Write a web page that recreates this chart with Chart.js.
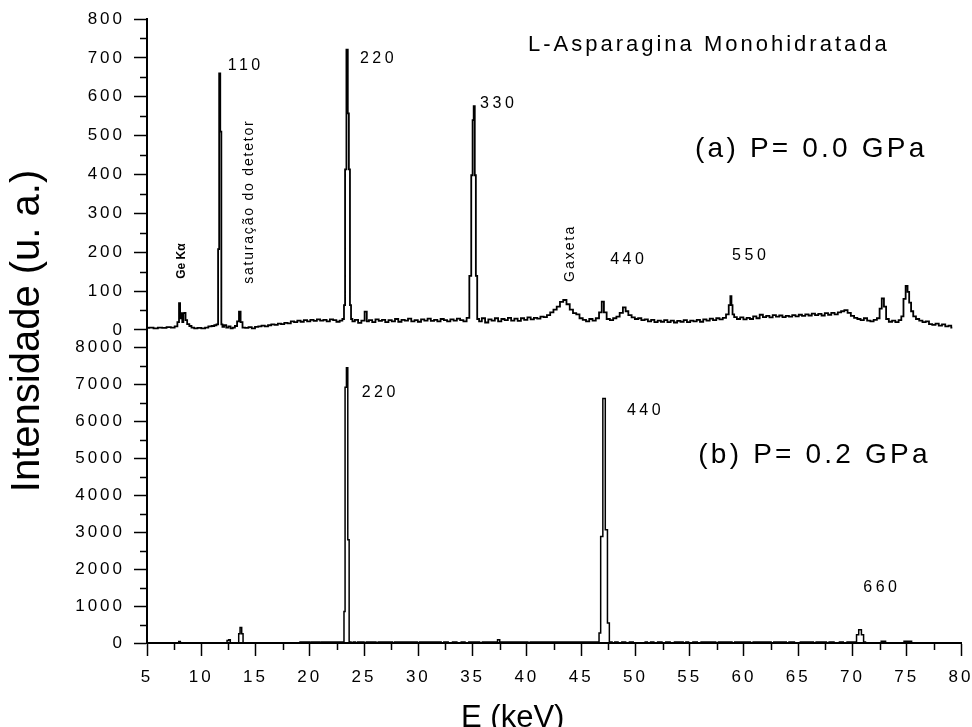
<!DOCTYPE html>
<html>
<head>
<meta charset="utf-8">
<title>L-Asparagina Monohidratada - EDXD</title>
<script src="https://cdn.jsdelivr.net/npm/chart.js@4.4.1/dist/chart.umd.min.js"></script>
<style>
  html, body { margin: 0; padding: 0; background: #fff; }
  #wrap { position: relative; width: 972px; height: 727px; }
</style>
</head>
<body>
<div id="wrap"><canvas id="chart-edxd"></canvas></div>
<script>
'use strict';

//
// Espectros EDXD, (a) 0.0 GPa e (b) 0.2 GPa
//

// (a) P = 0.0 GPa
var energyA = [
  5.0, 5.4, 5.8, 6.2, 6.6, 7.0, 7.4, 7.7, 7.9, 8.0, 8.1, 8.2, 8.3, 8.4, 8.5, 8.6, 8.8, 9.0, 9.2, 9.5,
  9.8, 10.2, 10.5, 10.8, 11.1, 11.3, 11.5, 11.6, 11.7, 11.8, 11.9, 12.0, 12.2, 12.4, 12.6, 12.8, 13.0, 13.2, 13.4, 13.55,
  13.7, 13.9, 14.2, 14.5, 14.8, 15.1, 15.4, 15.7, 16.0, 16.3, 16.6, 16.9, 17.2, 17.5, 17.8, 18.1, 18.4, 18.7, 19.0, 19.3,
  19.6, 19.9, 20.2, 20.5, 20.8, 21.1, 21.4, 21.7, 22.0, 22.3, 22.6, 22.9, 23.1, 23.2, 23.3, 23.45, 23.55, 23.65, 23.75, 23.85,
  24.0, 24.3, 24.6, 24.9, 25.2, 25.3, 25.6, 25.9, 26.2, 26.5, 26.8, 27.1, 27.4, 27.7, 28.0, 28.3, 28.6, 28.9, 29.2, 29.5,
  29.8, 30.1, 30.4, 30.7, 31.0, 31.3, 31.6, 31.9, 32.2, 32.5, 32.8, 33.1, 33.4, 33.7, 34.0, 34.3, 34.6, 34.8, 34.95, 35.05,
  35.15, 35.25, 35.35, 35.5, 35.7, 36.0, 36.3, 36.6, 36.9, 37.2, 37.5, 37.8, 38.1, 38.4, 38.7, 39.0, 39.3, 39.6, 39.9, 40.2,
  40.5, 40.8, 41.1, 41.4, 41.7, 42.0, 42.3, 42.6, 42.9, 43.2, 43.5, 43.8, 44.1, 44.4, 44.7, 45.0, 45.3, 45.6, 45.9, 46.2,
  46.5, 46.8, 47.0, 47.2, 47.5, 47.8, 48.1, 48.4, 48.7, 49.0, 49.2, 49.5, 49.8, 50.1, 50.4, 50.7, 51.0, 51.3, 51.6, 51.9,
  52.2, 52.5, 52.8, 53.1, 53.4, 53.7, 54.0, 54.3, 54.6, 54.9, 55.2, 55.5, 55.8, 56.1, 56.4, 56.7, 57.0, 57.3, 57.6, 57.9,
  58.2, 58.5, 58.7, 58.8, 58.9, 59.0, 59.2, 59.5, 59.8, 60.1, 60.4, 60.7, 61.0, 61.3, 61.6, 61.9, 62.2, 62.5, 62.8, 63.1,
  63.4, 63.7, 64.0, 64.3, 64.6, 64.9, 65.2, 65.5, 65.8, 66.1, 66.4, 66.7, 67.0, 67.3, 67.6, 67.9, 68.2, 68.5, 68.8, 69.1,
  69.4, 69.7, 70.0, 70.3, 70.6, 70.9, 71.2, 71.5, 71.8, 72.1, 72.4, 72.6, 72.8, 73.0, 73.2, 73.5, 73.8, 74.1, 74.4, 74.6,
  74.8, 75.0, 75.15, 75.3, 75.5, 75.7, 76.0, 76.3, 76.6, 76.9, 77.2, 77.5, 77.8, 78.1, 78.4, 78.7, 79.0, 79.2
];
var countsA = [
  5, 6, 4, 6, 5, 7, 6, 9, 20, 69, 30, 43, 20, 43, 44, 25, 15, 10, 6, 4,
  5, 4, 6, 9, 10, 12, 14, 208, 660, 510, 14, 8, 12, 6, 9, 4, 6, 10, 22, 47,
  20, 6, 5, 7, 4, 8, 9, 11, 9, 12, 14, 13, 16, 15, 18, 17, 22, 20, 24, 21,
  25, 22, 26, 23, 27, 24, 26, 22, 27, 25, 21, 24, 28, 64, 413, 721, 557, 413, 64, 28,
  22, 26, 18, 24, 47, 22, 25, 20, 27, 23, 26, 20, 25, 22, 28, 21, 26, 24, 29, 22,
  25, 21, 27, 24, 29, 23, 26, 22, 28, 25, 22, 27, 24, 29, 25, 22, 31, 139, 398, 540,
  576, 398, 139, 28, 22, 30, 19, 27, 24, 30, 22, 28, 25, 31, 24, 29, 23, 30, 26, 32,
  27, 31, 29, 34, 33, 38, 45, 52, 60, 72, 77, 66, 52, 43, 40, 30, 26, 22, 28, 24,
  30, 45, 73, 45, 28, 25, 30, 34, 44, 58, 48, 38, 32, 28, 30, 25, 27, 22, 26, 20,
  24, 21, 25, 20, 24, 19, 23, 21, 25, 20, 24, 22, 26, 21, 27, 24, 29, 25, 30, 27,
  31, 40, 64, 87, 64, 40, 33, 28, 32, 27, 31, 28, 35, 30, 39, 33, 36, 32, 38, 34,
  37, 33, 36, 34, 38, 35, 39, 36, 40, 37, 42, 38, 41, 37, 43, 39, 44, 40, 45, 48,
  51, 44, 36, 31, 28, 25, 30, 24, 22, 26, 30, 55, 81, 60, 28, 21, 24, 20, 25, 35,
  80, 113, 98, 70, 48, 35, 28, 24, 20, 22, 15, 13, 16, 11, 14, 9, 11, 6
];

// (b) P = 0.2 GPa
var energyB = [
  5.0, 7.85, 8.0, 8.15, 12.3, 12.45, 12.6, 12.75, 13.4, 13.5, 13.65, 13.8, 13.9, 19.0, 19.2, 19.9, 20.0, 20.2, 20.9, 21.0,
  21.2, 23.1, 23.2, 23.3, 23.45, 23.55, 23.7, 23.9, 24.1, 24.3, 24.5, 24.9, 25.1, 25.3, 26.0, 26.2, 26.4, 27.5, 27.7, 27.9,
  29.8, 30.0, 30.2, 32.0, 32.2, 32.5, 33.0, 33.3, 33.8, 34.1, 34.5, 34.8, 35.5, 35.8, 36.0, 37.2, 37.4, 37.6, 40.0, 40.2,
  40.4, 46.6, 46.7, 46.9, 47.1, 47.35, 47.5, 47.7, 48.0, 48.2, 48.6, 48.9, 49.3, 49.6, 50.0, 50.8, 51.0, 51.2, 51.6, 51.8,
  52.3, 52.6, 53.0, 53.4, 53.8, 54.3, 54.5, 54.8, 55.0, 55.6, 55.8, 56.3, 57.3, 57.5, 57.8, 58.8, 59.0, 59.3, 60.5, 60.7,
  61.0, 62.4, 62.6, 62.9, 63.8, 64.0, 64.3, 65.0, 65.4, 66.3, 66.5, 66.8, 67.5, 67.7, 68.0, 68.6, 69.0, 69.3, 69.7, 70.3,
  70.45, 70.7, 70.95, 71.1, 71.3, 72.6, 72.7, 73.0, 73.1, 74.7, 74.8, 75.4, 75.5, 80.0
];
var countsB = [
  0, 0, 40, 0, 0, 70, 90, 0, 0, 250, 420, 250, 0, 0, 25, 25, 0, 25, 25, 0,
  25, 25, 850, 6910, 7440, 2790, 25, 0, 30, 0, 30, 30, 0, 30, 30, 0, 30, 30, 0, 30,
  30, 0, 30, 30, 0, 30, 0, 30, 0, 30, 0, 30, 30, 0, 30, 30, 90, 30, 30, 0,
  30, 30, 270, 2880, 6610, 3060, 540, 30, 0, 30, 0, 30, 0, 30, 0, 0, 30, 0, 30, 0,
  30, 0, 30, 0, 30, 30, 0, 30, 0, 30, 0, 30, 30, 0, 30, 30, 0, 30, 30, 0,
  30, 30, 0, 30, 30, 0, 30, 0, 30, 30, 0, 30, 30, 0, 30, 0, 30, 0, 30, 25,
  225, 360, 225, 25, 0, 0, 45, 45, 0, 0, 45, 45, 0, 0
];

// tick labels
var ticksE = [5, 10, 15, 20, 25, 30, 35, 40, 45, 50, 55, 60, 65, 70, 75, 80];
var ticksA = [0, 100, 200, 300, 400, 500, 600, 700, 800];
var ticksB = [0, 1000, 2000, 3000, 4000, 5000, 6000, 7000, 8000];

// peak labels and panel captions, in data units of their panel
var notesA = [
  { text: '110', x: 12.44, y: 679 },
  { text: '220', x: 24.62, y: 698 },
  { text: '330', x: 35.69, y: 582 },
  { text: '440', x: 47.68, y: 181 },
  { text: '550', x: 58.91, y: 191 },
  { text: 'L-Asparagina Monohidratada', x: 40.1, y: 733, size: 22, spacing: 3 },
  { text: '(a) P= 0.0 GPa', x: 55.5, y: 465, size: 28, spacing: 3.2 },
  { text: 'Ge K\u03b1', x: 8.2, y: 177, size: 12, bold: true, rotate: true, spacing: 0 },
  { text: 'saturação do detetor', x: 14.43, y: 330, size: 14, rotate: true, spacing: 1.8 },
  { text: 'Gaxeta', x: 43.95, y: 197, size: 14, rotate: true, spacing: 2 }
];
var notesB = [
  { text: '220', x: 24.78, y: 6756 },
  { text: '440', x: 49.22, y: 6270 },
  { text: '(b) P= 0.2 GPa', x: 55.8, y: 5061, size: 28, spacing: 3.2 },
  { text: '660', x: 71.0, y: 1506 }
];

var FONT = '"Liberation Sans", Arial, sans-serif';

function toPoints(xs, ys) {
  return xs.map(function(x, i) { return { x: x, y: ys[i] }; });
}

function midpoints(list) {
  var out = [];
  for (var i = 1; i < list.length; i++) out.push((list[i - 1] + list[i]) / 2);
  return out;
}

// short ticks halfway between the labelled ones
var minorTicks = {
  id: 'minorTicks',
  afterDraw: function(chart) {
    var ctx = chart.ctx;
    ctx.save();
    ctx.strokeStyle = '#000';
    ctx.lineWidth = 1.5;
    ctx.beginPath();
    [['yA', ticksA], ['yB', ticksB]].forEach(function(p) {
      var s = chart.scales[p[0]];
      midpoints(p[1]).forEach(function(v) {
        var y = Math.round(s.getPixelForValue(v)) + 0.5;
        ctx.moveTo(s.right - 7, y);
        ctx.lineTo(s.right, y);
      });
    });
    var sx = chart.scales.x;
    midpoints(ticksE).forEach(function(v) {
      var x = Math.round(sx.getPixelForValue(v)) + 0.5;
      ctx.moveTo(x, sx.top);
      ctx.lineTo(x, sx.top + 7);
    });
    ctx.stroke();
    ctx.restore();
  }
};

// spaced-out lettering for the tick labels
var tickSpacing = {
  id: 'tickSpacing',
  beforeDraw: function(chart) { chart.ctx.letterSpacing = '3px'; },
  afterDraw: function(chart) { chart.ctx.letterSpacing = '0px'; }
};

function drawNotes(chart, notes, scaleId) {
  var ctx = chart.ctx;
  var sx = chart.scales.x, sy = chart.scales[scaleId];
  notes.forEach(function(n) {
    var px = sx.getPixelForValue(n.x);
    var py = sy.getPixelForValue(n.y);
    ctx.save();
    ctx.fillStyle = '#000';
    ctx.font = (n.bold ? 'bold ' : '') + (n.size || 16) + 'px ' + FONT;
    ctx.letterSpacing = (n.spacing === undefined ? 3.5 : n.spacing) + 'px';
    ctx.textBaseline = 'middle';
    if (n.rotate) {
      ctx.translate(px, py);
      ctx.rotate(-Math.PI / 2);
      ctx.textAlign = 'center';
      ctx.fillText(n.text, 0, 0);
    } else {
      ctx.textAlign = 'left';
      ctx.fillText(n.text, px, py);
    }
    ctx.restore();
  });
}

var annotations = {
  id: 'annotations',
  afterDatasetsDraw: function(chart) {
    drawNotes(chart, notesA, 'yA');
    drawNotes(chart, notesB, 'yB');

    // axis titles
    var ctx = chart.ctx, area = chart.chartArea;
    ctx.save();
    ctx.fillStyle = '#000';
    ctx.letterSpacing = '0px';
    ctx.textAlign = 'center';
    ctx.textBaseline = 'middle';
    ctx.font = '40px ' + FONT;
    ctx.save();
    ctx.translate(28, (area.top + area.bottom) / 2);
    ctx.rotate(-Math.PI / 2);
    ctx.fillText('Intensidade (u. a.)', 0, 0);
    ctx.restore();
    ctx.font = '31px ' + FONT;
    ctx.fillText('E (keV)', chart.scales.x.getPixelForValue(38.7), area.bottom + 75);
    ctx.restore();
  }
};

// keep the plot frame where the layout padding puts it
function fixWidth(s) {
  s.width = 147;
  s.paddingTop = 0;
  s.paddingBottom = 0;
}

var Chart1 = (function() {

  Chart.defaults.font.family = FONT;
  Chart.defaults.color = '#000';

  var tickFont = { size: 17 };
  var grid = { drawOnChartArea: false, tickLength: 13, tickWidth: 1.5, tickColor: '#000' };
  var border = { color: '#000', width: 2 };
  var plain = function(v) { return String(v); };

  var ctx = document.getElementById('chart-edxd').getContext('2d');
  var chart = new Chart(ctx, {
    type: 'line',
    data: {
      datasets: [{
        label: '(b) P= 0.2 GPa',
        data: toPoints(energyB, countsB),
        yAxisID: 'yB',
        borderColor: '#000',
        borderWidth: 1.5,
        pointRadius: 0,
        stepped: 'middle'
      }, {
        label: '(a) P= 0.0 GPa',
        data: toPoints(energyA, countsA),
        yAxisID: 'yA',
        borderColor: '#000',
        borderWidth: 1.8,
        pointRadius: 0,
        stepped: 'middle'
      }]
    },
    options: {
      responsive: true,
      maintainAspectRatio: false,
      animation: false,
      events: [],
      layout: { padding: { top: 19, right: 11, left: 0, bottom: 0 } },
      plugins: { legend: { display: false }, tooltip: { enabled: false } },
      scales: {
        x: {
          type: 'linear',
          position: 'bottom',
          min: 5,
          max: 80,
          afterBuildTicks: function(s) { s.ticks = ticksE.map(function(v) { return { value: v }; }); },
          afterFit: function(s) {
            s.height = 84;
            s.paddingLeft = 0;
            s.paddingRight = 0;
          },
          ticks: { font: tickFont, padding: 11, maxRotation: 0, autoSkip: false, callback: plain },
          grid: grid,
          border: border
        },
        // the lower panel is listed first: stacked left axes are laid out bottom-up
        yB: {
          type: 'linear',
          position: 'left',
          stack: 'panels',
          stackWeight: 296,
          min: 0,
          max: 8000,
          afterBuildTicks: function(s) { s.ticks = ticksB.map(function(v) { return { value: v }; }); },
          afterFit: fixWidth,
          ticks: { font: tickFont, padding: 9, autoSkip: false, callback: plain },
          grid: grid,
          border: border
        },
        yA: {
          type: 'linear',
          position: 'left',
          stack: 'panels',
          stackWeight: 328,
          min: -44,
          max: 800,
          afterBuildTicks: function(s) { s.ticks = ticksA.map(function(v) { return { value: v }; }); },
          afterFit: fixWidth,
          ticks: { font: tickFont, padding: 9, autoSkip: false, callback: plain },
          grid: grid,
          border: border
        }
      }
    },
    plugins: [tickSpacing, minorTicks, annotations]
  });

  document.getElementById('chart-edxd').chart = chart;
  return chart;
})();
</script>
</body>
</html>
